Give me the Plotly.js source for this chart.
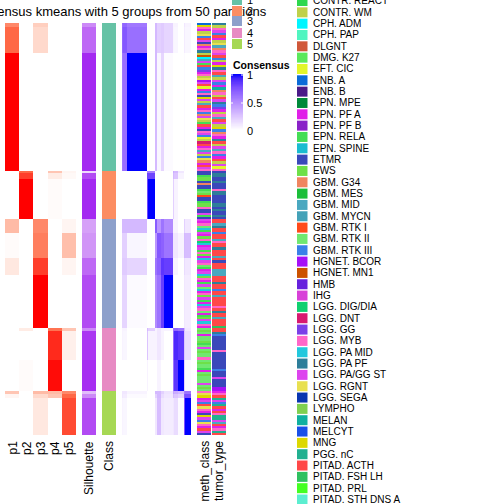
<!DOCTYPE html>
<html><head><meta charset="utf-8">
<script src="https://cdn.plot.ly/plotly-3.0.1.min.js"></script>
<style>body{margin:0;padding:0;overflow:hidden;background:#fff}#chart{width:504px;height:504px}</style>
</head><body><div id="chart"></div>
<script>
// ---------- data ----------
const titleText = 'Consensus kmeans with 5 groups from 50 partitions';
const classNames = ['1','2','3','4','5'];
const classColors = ['#66C2A5','#FC8D62','#8DA0CB','#E78AC3','#A6D854'];
const memberLabels = ['p1','p2','p3','p4','p5'];
const annoLabels = ['Silhouette','Class','meth_class','tumor_type'];

// sample bands (rows, top to bottom)
const bandClass = [0,0,0,1,1,1,2,2,2,2,3,3,3,4,4,4];
const bandSize  = [4,26,118,2,6,40,14,25,17,53,3,29,31,3,4,37];
const p1 = [0.6,0.75,1,0,0,0,0.35,0.02,0.12,0,0,0,0,0.3,0.05,0];
const p2 = [0,0,0,0.75,0.85,1,0,0,0,0,0.1,0,0.02,0,0,0];
const p3 = [0.25,0.2,0,0,0,0,0.6,0.65,0.85,1,0,0,0,0.35,0.2,0.12];
const p4 = [0,0,0,0.3,0.1,0.02,0,0,0,0,0.7,0.9,0.97,0.35,0.3,0];
const p5 = [0,0,0,0.05,0.03,0,0.05,0.33,0.05,0,0.3,0.08,0,0.6,0.75,0.82];
const silhouette = [0.6,0.75,0.97,0.2,0.85,0.97,0.5,0.55,0.75,0.85,0.6,0.92,0.95,0.35,0.6,0.85];
const consensus = [
 [0.62,0.66,0.58,0,0,0,0.3,0.2,0.22,0.18,0.05,0.05,0,0.1,0.1,0.05],
 [0.66,0.72,0.62,0,0,0,0.3,0.2,0.22,0.18,0.05,0.04,0,0.1,0.08,0.04],
 [0.58,0.62,1,0,0,0,0.3,0.04,0.18,0.02,0,0,0,0.05,0.02,0],
 [0,0,0,0.5,0.55,0.55,0,0,0,0,0.35,0.3,0.1,0,0,0],
 [0,0,0,0.55,0.8,0.8,0,0,0,0,0.3,0.25,0.05,0,0,0],
 [0,0,0,0.55,0.8,1,0,0,0,0,0.2,0.05,0,0,0,0],
 [0.3,0.3,0.3,0,0,0,0.7,0.45,0.6,0.5,0.05,0.05,0,0.3,0.2,0.1],
 [0.2,0.2,0.04,0,0,0,0.45,0.72,0.68,0.6,0.1,0.1,0.05,0.3,0.3,0.28],
 [0.22,0.22,0.18,0,0,0,0.6,0.68,0.85,0.82,0.05,0.05,0,0.2,0.15,0.1],
 [0.18,0.18,0.02,0,0,0,0.5,0.6,0.82,1,0.05,0,0,0.12,0.1,0.08],
 [0.05,0.05,0,0.35,0.3,0.2,0.05,0.1,0.05,0.05,0.6,0.65,0.6,0.4,0.3,0.1],
 [0.05,0.04,0,0.3,0.25,0.05,0.05,0.1,0.05,0,0.65,0.9,0.85,0.35,0.25,0.15],
 [0,0,0,0.1,0.05,0,0,0.05,0,0,0.6,0.85,1,0.3,0.2,0.02],
 [0.1,0.1,0.05,0,0,0,0.3,0.3,0.2,0.12,0.4,0.35,0.3,0.5,0.55,0.6],
 [0.1,0.08,0.02,0,0,0,0.2,0.3,0.15,0.1,0.3,0.25,0.2,0.55,0.7,0.75],
 [0.05,0.04,0,0,0,0,0.1,0.28,0.1,0.08,0.1,0.15,0.02,0.6,0.75,1]
];

const tumorTypes = ['CONTR. REACT','CONTR. WM','CPH. ADM','CPH. PAP','DLGNT','DMG. K27','EFT. CIC','ENB. A','ENB. B','EPN. MPE',
 'EPN. PF A','EPN. PF B','EPN. RELA','EPN. SPINE','ETMR','EWS','GBM. G34','GBM. MES','GBM. MID','GBM. MYCN',
 'GBM. RTK I','GBM. RTK II','GBM. RTK III','HGNET. BCOR','HGNET. MN1','HMB','IHG','LGG. DIG/DIA','LGG. DNT','LGG. GG',
 'LGG. MYB','LGG. PA MID','LGG. PA PF','LGG. PA/GG ST','LGG. RGNT','LGG. SEGA','LYMPHO','MELAN','MELCYT','MNG',
 'PGG. nC','PITAD. ACTH','PITAD. FSH LH','PITAD. PRL','PITAD. STH DNS A'];
const tumorColors = ['#2ED84E','#BFD14A','#00F5FF','#50F5C0','#D0583A','#5BE85B','#E2F52A','#0A6BD8','#4A1A88','#008A3A',
 '#E020E8','#8A22C8','#44DD55','#1ABCD0','#3A48BA','#6EE048','#F08560','#1CBE3A','#4AA8C0','#44A2B8',
 '#FF4A1A','#70E870','#3A80E8','#A510F8','#CC5200','#6622DD','#D840D8','#10D070','#D81A70','#7A40E8',
 '#FF66C8','#22C8DD','#2E7E9A','#DD44EE','#E8E050','#0A36B0','#80D050','#10B0A0','#1A50E8','#DDD800',
 '#22B090','#FF4848','#30C060','#44FF22','#5CEED0'];
const typeCodes = 'abcdefghijklmnopqrstuvwxyzABCDEFGHIJKLMNOPQRS';
// stripes per class, one code per sample stripe
const methClassStripes = [
 'hNEkbIwPHoqkEGbycsHmPwDkEbIxHPgkwEoNHbsPkEwqHIbmPkoEHwgbCPkEsHbwIqkPHE',
 'oomppoqoomvpuoomppEooHmo',
 'HkEvFmHkpEBFkHmEpkFHEvmkHFpEkmHvFkEpHmkFHEvkmpHFEk',
 'vpvkvvpmvHvpvvEvpvvmkvpvvvHvpv',
 'EINkHwPIEkoNHwIEkPHo'
];
const tumorTypeStripes = [
 'GbEHwPkbIsqEHPwbkNGEPsbHwkLqEbPHGwDkbEsPHbNwqEkGPbHsEwkPbHgE',
 'oGGooGoooEGGooooGGoGooGo',
 'PPsGPPwPPsEPPGPPPsPoPPPsssPPPGPPwPPsPPPPEPGPPsPPPQ',
 'PPGwoooooooEoooooooowoooHooooxx',
 'kEPOHwOPkPEOOHsPkEOP'
];

// ---------- helpers ----------
const W = 504, H = 504;
const px = v => v / W;
const py = v => 1 - v / H;
const font = 'Liberation Sans, Arial, sans-serif';

const classSizes = [0,0,0,0,0];
bandSize.forEach((s,i)=>classSizes[bandClass[i]] += s);
const total = bandSize.reduce((a,b)=>a+b,0);
const bandEdges = [0];
bandSize.forEach(s=>bandEdges.push(bandEdges[bandEdges.length-1]+s));

function stripes(strs){
  const z=[], y=[0]; let start=0;
  strs.forEach((s,ci)=>{
    const h = classSizes[ci]/s.length;
    for(let k=0;k<s.length;k++){ z.push([typeCodes.indexOf(s[k])]); y.push(start+h*(k+1)); }
    start += classSizes[ci];
  });
  return {z,y};
}
const catScale = tumorColors.map((c,i)=>[i/(tumorColors.length-1), c]);
const redScale = [[0,'#FFFFFF'],[0.25,'rgb(255,207,191)'],[0.5,'rgb(255,158,129)'],[0.75,'rgb(255,104,70)'],[1,'rgb(255,0,0)']];
const blueScale = [[0,'#FFFFFF'],[0.25,'rgb(220,196,255)'],[0.5,'rgb(178,139,255)'],[0.75,'rgb(126,81,255)'],[0.9,'rgb(77,41,253)'],[1,'rgb(0,0,255)']];
const purpleScale = [[0,'#FFFFFF'],[0.5,'rgb(214,160,248)'],[0.75,'rgb(190,104,245)'],[1,'rgb(160,32,240)']];
const classScale = classColors.map((c,i)=>[i/(classColors.length-1), c]);

const common = {type:'heatmap', showscale:false, hoverinfo:'skip', zsmooth:false};
const traces = [];
traces.push(Object.assign({}, common, {
  z: bandSize.map((_,i)=>[p1[i],p2[i],p3[i],p4[i],p5[i]]),
  x: [0,1,2,3,4], y: bandEdges, zmin:0, zmax:1, colorscale: redScale, xaxis:'x', yaxis:'y'}));
traces.push(Object.assign({}, common, {
  z: silhouette.map(v=>[v]), x:[0], y: bandEdges, zmin:0, zmax:1, colorscale: purpleScale, xaxis:'x2', yaxis:'y'}));
traces.push(Object.assign({}, common, {
  z: bandClass.map(v=>[v]), x:[0], y: bandEdges, zmin:0, zmax:4, colorscale: classScale, xaxis:'x3', yaxis:'y'}));
traces.push(Object.assign({}, common, {
  z: consensus, x: bandEdges, y: bandEdges, zmin:0, zmax:1, colorscale: blueScale, xaxis:'x4', yaxis:'y'}));
const ms = stripes(methClassStripes), ts = stripes(tumorTypeStripes);
traces.push(Object.assign({}, common, {
  z: ms.z, x:[0], y: ms.y, zmin:0, zmax:tumorColors.length-1, colorscale: catScale, xaxis:'x5', yaxis:'y'}));
traces.push(Object.assign({}, common, {
  z: ts.z, x:[0], y: ts.y, zmin:0, zmax:tumorColors.length-1, colorscale: catScale, xaxis:'x6', yaxis:'y'}));
// colour bar gradient
const gz=[], gy=[];
for(let i=0;i<=100;i++){ gy.push(i/100); if(i<100) gz.push([(i+0.5)/100]); }
traces.push(Object.assign({}, common, {
  z: gz, x:[0], y: gy, zmin:0, zmax:1, colorscale: blueScale, xaxis:'x7', yaxis:'y2'}));

const hid = {showgrid:false, zeroline:false, showticklabels:false, ticks:'', showline:false, fixedrange:true};
const layout = {
  width:W, height:H, margin:{l:0,r:0,t:0,b:0}, paper_bgcolor:'#fff', plot_bgcolor:'rgba(0,0,0,0)',
  showlegend:false, font:{family:font, color:'#000'},
  yaxis: Object.assign({}, hid, {domain:[py(435), py(23)], range:[total,0], anchor:'x'}),
  yaxis2: Object.assign({}, hid, {domain:[py(130), py(74)], range:[0,1], anchor:'x7'}),
  xaxis: Object.assign({}, hid, {domain:[px(5), px(76)], range:[-0.5,4.5], anchor:'y'}),
  xaxis2: Object.assign({}, hid, {domain:[px(82), px(96)], range:[-0.5,0.5], anchor:'y'}),
  xaxis3: Object.assign({}, hid, {domain:[px(102), px(116)], range:[-0.5,0.5], anchor:'y'}),
  xaxis4: Object.assign({}, hid, {domain:[px(122), px(191)], range:[0,total], anchor:'y'}),
  xaxis5: Object.assign({}, hid, {domain:[px(197), px(211)], range:[-0.5,0.5], anchor:'y'}),
  xaxis6: Object.assign({}, hid, {domain:[px(212), px(226)], range:[-0.5,0.5], anchor:'y'}),
  xaxis7: Object.assign({}, hid, {domain:[px(231), px(243)], range:[-0.5,0.5], anchor:'y2'}),
  annotations: [], shapes: []
};
const A = layout.annotations, S = layout.shapes;
// title
A.push({text:titleText, xref:'paper', yref:'paper', x:px(117), y:py(11), xanchor:'center', yanchor:'middle',
  showarrow:false, font:{size:13, family:font}});
// class legend (drawn over the title)
classNames.forEach((n,i)=>{
  const c = -0.5 + 11*i;
  A.push({text:' ', xref:'paper', yref:'paper', x:px(232), y:py(c), xanchor:'left', yanchor:'middle',
    showarrow:false, width:10, height:10, bgcolor:classColors[i], borderpad:0, borderwidth:0, font:{size:8}});
  A.push({text:n, xref:'paper', yref:'paper', x:px(244.5), y:py(c), xanchor:'left', yanchor:'middle',
    showarrow:false, font:{size:11, family:font}});
});
// consensus colour bar
A.push({text:'<b>Consensus</b>', xref:'paper', yref:'paper', x:px(231), y:py(65), xanchor:'left', yanchor:'middle',
  showarrow:false, font:{size:10.5, family:font}});
[['1',74.5],['0.5',103],['0',131]].forEach(t=>{
  A.push({text:t[0], xref:'paper', yref:'paper', x:px(245), y:py(t[1]), xanchor:'left', yanchor:'middle',
    showarrow:false, font:{size:11, family:font}});
});
[75,103].forEach(yv=>{
  S.push({type:'line', xref:'paper', yref:'paper', x0:px(231), x1:px(233), y0:py(yv), y1:py(yv), line:{color:'#fff', width:1}});
  S.push({type:'line', xref:'paper', yref:'paper', x0:px(241), x1:px(243), y0:py(yv), y1:py(yv), line:{color:'#fff', width:1}});
});
// rotated column labels
const labelCols = [['p1',12.5],['p2',27],['p3',41],['p4',55],['p5',69],['Silhouette',89],['Class',109],['meth_class',204],['tumor_type',219]];
labelCols.forEach(l=>{
  A.push({text:l[0], xref:'paper', yref:'paper', x:px(l[1]), y:py(439), xanchor:'center', yanchor:'top',
    textangle:-90, showarrow:false, font:{size:12, family:font}});
});
// tumor type legend
tumorTypes.forEach((t,i)=>{
  const c = 1 + 11.33*i;
  S.push({type:'rect', xref:'paper', yref:'paper', x0:px(297), x1:px(307.5), y0:py(c+5), y1:py(c-5),
    fillcolor:tumorColors[i], line:{width:0}});
  A.push({text:t, xref:'paper', yref:'paper', x:px(310.5), y:py(c), xanchor:'left', yanchor:'middle',
    showarrow:false, font:{size:10, family:font}});
});

Plotly.newPlot('chart', traces, layout, {staticPlot:true, displayModeBar:false});
</script>
</body></html>
